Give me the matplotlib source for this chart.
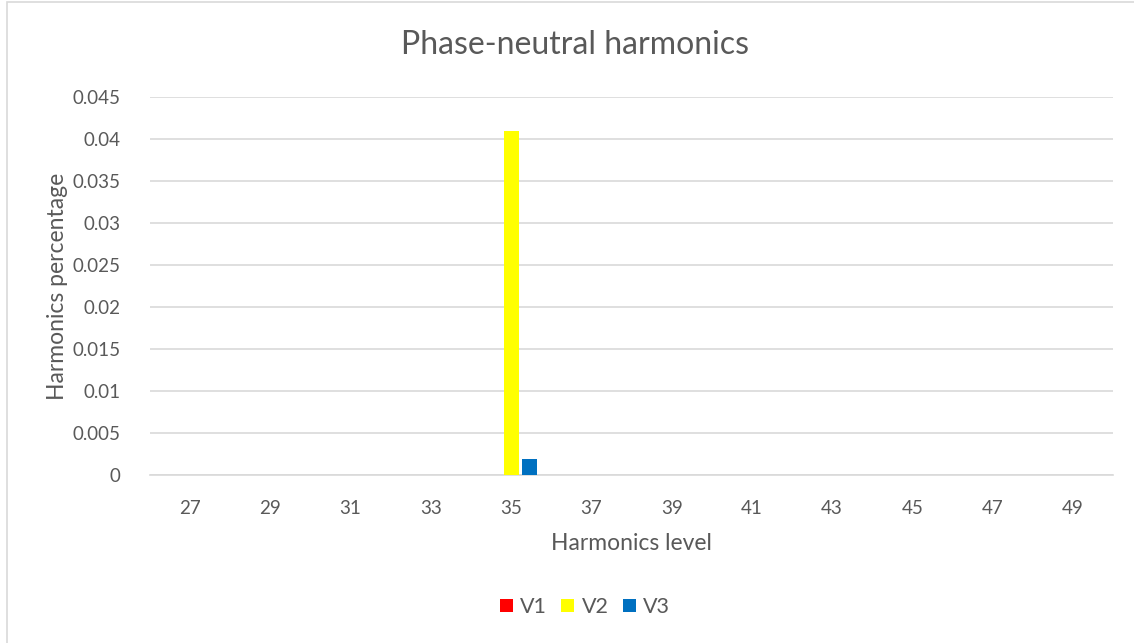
import matplotlib.pyplot as plt
import matplotlib.patches as patches
import numpy as np

levels = ["27", "29", "31", "33", "35", "37", "39", "41", "43", "45", "47", "49"]
v1 = [0, 0, 0, 0, 0, 0, 0, 0, 0, 0, 0, 0]
v2 = [0, 0, 0, 0, 0.041, 0, 0, 0, 0, 0, 0, 0]
v3 = [0, 0, 0, 0, 0.0019, 0, 0, 0, 0, 0, 0, 0]
series_names = ["V1", "V2", "V3"]

colors = ["#FF0000", "#FFFF00", "#0070C0"]
txt = "#595959"

plt.rcParams["font.family"] = "Lato"

fig = plt.figure(figsize=(11.34, 6.43), dpi=100)
ax = fig.add_axes([150/1134, 1-475/643, (1113-150)/1134, (475-97)/643])

# chart border, like the excel chart area
fig.patches.append(patches.Rectangle((7/1134, -0.1), 1.2, 1-2/643+0.1, transform=fig.transFigure,
                                     fill=False, edgecolor="#D9D9D9", lw=1.2))

x = np.arange(len(levels))
width = 0.187
step = 0.224
for i, vals in enumerate([v1, v2, v3]):
    ax.bar(x + (i-1)*step, vals, width=width, color=colors[i], label=series_names[i], zorder=3)

ax.set_xlim(-0.5, len(levels)-0.5)
ax.set_ylim(0, 0.045)
ax.set_yticks(np.arange(0, 0.0451, 0.005))
ax.set_yticklabels(["0", "0.005", "0.01", "0.015", "0.02", "0.025", "0.03", "0.035", "0.04", "0.045"])
ax.set_xticks(x)
ax.set_xticklabels(levels)
ax.tick_params(length=0, colors=txt, labelsize=13.5)
ax.tick_params(axis="y", pad=21)
ax.tick_params(axis="x", pad=18)
ax.grid(axis="y", color="#D9D9D9", lw=1.2, zorder=0)
for s in ["top", "right", "left"]:
    ax.spines[s].set_visible(False)
ax.spines["bottom"].set_color("#D9D9D9")
ax.spines["bottom"].set_linewidth(1.2)

fig.text(575/1134, 1-45/643, "Phase-neutral harmonics", ha="center", va="center", fontsize=23, color=txt)
fig.text(631/1134, 1-543/643, "Harmonics level", ha="center", va="center", fontsize=16.5, color=txt)
fig.text(58/1134, 1-286/643, "Harmonics percentage", ha="center", va="center", rotation=90, fontsize=16.5, color=txt)

fig.legend(loc="center", bbox_to_anchor=(585/1134, 1-607/643), ncol=3, frameon=False,
           fontsize=15.5, labelcolor=txt, handlelength=0.6, handleheight=0.6, handletextpad=0.35,
           columnspacing=0.65)

fig.savefig("out.png", dpi=100)
